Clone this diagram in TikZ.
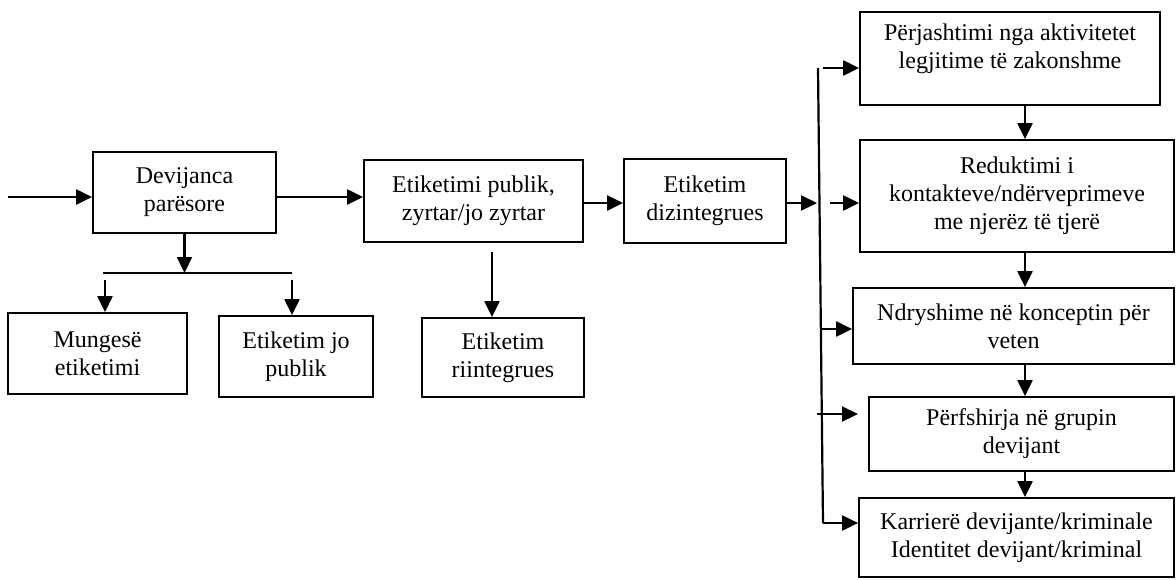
\documentclass[tikz,border=0pt]{standalone}
\usepackage{fontspec}
\setmainfont{Liberation Serif}
\usetikzlibrary{arrows.meta}
\tikzset{
  box/.style={draw, line width=1.8pt, inner sep=0pt, align=center,
    font=\fontsize{24}{28}\selectfont},
  lbl/.style={inner sep=0pt, align=center, font=\fontsize{24}{28}\selectfont},
  arr/.style={line width=2.2pt, -{Triangle[length=16pt,width=15pt]}},
  ln/.style={line width=2.2pt}
}
\begin{document}
\begin{tikzpicture}[x=1pt,y=-1pt]
\useasboundingbox (0,0) rectangle (1176,579);
% left part
\node[box, minimum width=183pt, minimum height=81pt] (dev) at (184.5,192.5) {Devijanca\\parësore};
\node[box, minimum width=179pt, minimum height=81pt] (mung) at (97.5,353.5) {Mungesë\\etiketimi};
\node[box, minimum width=154pt, minimum height=81pt] (jopub) at (296,356.5) {Etiketim jo\\publik};
\node[box, minimum width=219pt, minimum height=82pt] (pub) at (473.5,201) {Etiketimi publik,\\zyrtar/jo zyrtar};
\node[box, minimum width=162pt, minimum height=84pt] (diz) at (705,201) {Etiketim\\dizintegrues};
\node[box, minimum width=162pt, minimum height=79pt] (riin) at (503,357.5) {Etiketim\\riintegrues};
% right column
\node[box, minimum width=300pt, minimum height=93pt] (b1) at (1010,58.5) {};
\node[lbl] (t1) at (1010,49) {Përjashtimi nga aktivitetet\\legjitime të zakonshme};
\node[box, minimum width=314pt, minimum height=112pt] (b2) at (1017,196) {Reduktimi i\\kontakteve/ndërveprimeve\\me njerëz të tjerë};
\node[box, minimum width=321pt, minimum height=76pt] (b3) at (1013.5,326) {Ndryshime në konceptin për\\veten};
\node[box, minimum width=305pt, minimum height=74pt] (b4) at (1021.5,434) {Përfshirja në grupin\\devijant};
\node[box, minimum width=315pt, minimum height=79pt] (b5) at (1016.5,537.5) {Karrierë devijante/kriminale\\Identitet devijant/kriminal};
% coordinates
\coordinate (in) at (8,197);
\coordinate (sl) at (103,273);
\coordinate (sr) at (292,273);
\coordinate (m1) at (105,280);
\coordinate (m2) at (292,280);
\coordinate (pd) at (492,252);
\coordinate (dz) at (817,203);
\coordinate (vt) at (818,68);
\coordinate (vb) at (823,523);
\coordinate (a1) at (823,68);
\coordinate (a2) at (830,203);
\coordinate (a3) at (822,329);
\coordinate (a4) at (817,414);
\coordinate (a4e) at (858,414);
\coordinate (vx) at (1025,0);
% connectors
\draw[arr] (in) -- (in -| dev.west);
\draw[arr] (dev.east |- in) -- (pub.west |- in);
\draw[arr] (dev.south) -- (dev.south |- sl);
\draw[ln] (sl) -- (sr);
\draw[arr] (m1) -- (m1 |- mung.north);
\draw[arr] (m2) -- (m2 |- jopub.north);
\draw[arr] (pub.east |- dz) -- (diz.west |- dz);
\draw[arr] (pd) -- (pd |- riin.north);
\draw[arr] (diz.east |- dz) -- (dz);
\draw[ln] (vt) -- (vb);
\draw[arr] (vb) -- (vb -| b5.west);
\draw[arr] (a1) -- (a1 -| b1.west);
\draw[arr] (a2) -- (a2 -| b2.west);
\draw[arr] (a3) -- (a3 -| b3.west);
\draw[arr] (a4) -- (a4e);
\draw[arr] (b1.south -| vx) -- (b2.north -| vx);
\draw[arr] (b2.south -| vx) -- (b3.north -| vx);
\draw[arr] (b3.south -| vx) -- (b4.north -| vx);
\draw[arr] (b4.south -| vx) -- (b5.north -| vx);
\end{tikzpicture}
\end{document}
